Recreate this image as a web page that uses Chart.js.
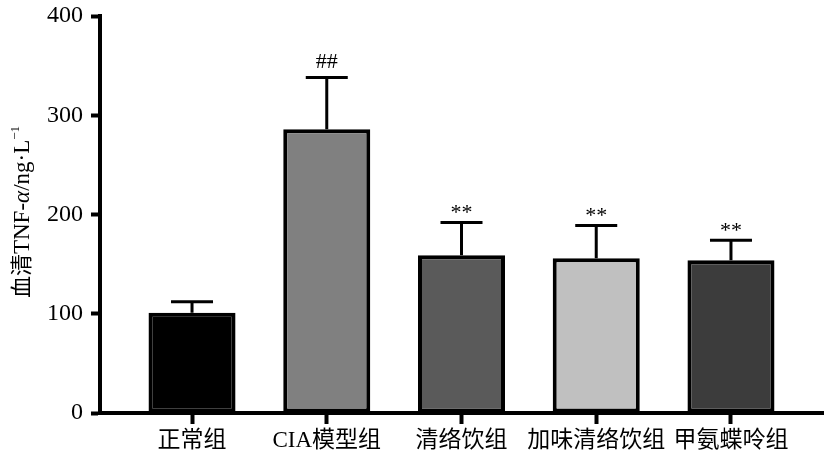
<!DOCTYPE html>
<html>
<head>
<meta charset="utf-8">
<script src="https://cdn.jsdelivr.net/npm/chart.js@4"></script>
<style>
  html, body { margin: 0; padding: 0; background: #fff; }
  #wrap { width: 829px; height: 462px; }
</style>
</head>
<body>
<div id="wrap"><canvas id="grafico" width="829" height="462"></canvas></div>
<script>
const grupos = ['正常组', 'CIA模型组', '清络饮组', '加味清络饮组', '甲氨蝶呤组'];
const medias = [101, 286, 159, 156, 154];
const errores = [11, 52, 33, 33, 20];
const marcas = ['', '##', '**', '**', '**'];
const colores = ['#000000', '#808080', '#5a5a5a', '#c0c0c0', '#3c3c3c'];
const ticksY = [0, 100, 200, 300, 400];

const serif = '"Liberation Serif", "Times New Roman", "Noto Sans CJK SC", serif';

// barras de error y marcas de significancia
const pluginError = {
    id: 'pluginError',
    afterDatasetsDraw(chart) {
        const ctx = chart.ctx;
        const x = chart.scales.x;
        const y = chart.scales.y;
        ctx.save();
        ctx.strokeStyle = '#000';
        ctx.lineWidth = 3;
        medias.forEach((m, i) => {
            const px = x.getPixelForValue(i);
            const top = y.getPixelForValue(m);
            const cap = y.getPixelForValue(m + errores[i]);
            ctx.beginPath();
            ctx.moveTo(px, top);
            ctx.lineTo(px, cap);
            ctx.moveTo(px - 21, cap);
            ctx.lineTo(px + 21, cap);
            ctx.stroke();
            if (marcas[i]) {
                ctx.fillStyle = '#000';
                ctx.font = '22px ' + serif;
                ctx.textAlign = 'center';
                ctx.textBaseline = 'alphabetic';
                ctx.fillText(marcas[i], px, marcas[i] === '##' ? cap - 10 : cap - 3);
            }
        });
        ctx.restore();
    }
};

// título del eje Y con alfa en cursiva y exponente
const pluginTitulo = {
    id: 'pluginTitulo',
    afterDraw(chart) {
        const ctx = chart.ctx;
        const partes = [
            { t: '血清', f: '22px "Noto Sans CJK SC", sans-serif', dy: 0 },
            { t: 'TNF-', f: '23px ' + serif, dy: 0 },
            { t: 'α', f: 'italic 23px ' + serif, dy: 0 },
            { t: '/ng·L', f: '23px ' + serif, dy: 0 },
            { t: '−1', f: '13px ' + serif, dy: -10 }
        ];
        ctx.save();
        let total = 0;
        partes.forEach(p => { ctx.font = p.f; p.w = ctx.measureText(p.t).width; total += p.w; });
        ctx.translate(29, 212);
        ctx.rotate(-Math.PI / 2);
        ctx.fillStyle = '#000';
        ctx.textBaseline = 'alphabetic';
        ctx.textAlign = 'left';
        let cx = -total / 2;
        partes.forEach(p => {
            ctx.font = p.f;
            ctx.fillText(p.t, cx, p.dy);
            cx += p.w;
        });
        ctx.restore();
    }
};

const grafico1 = document.getElementById('grafico').getContext('2d');

new Chart(grafico1, {
    type: 'bar',
    data: {
        datasets: [{
            data: medias.map((v, i) => ({ x: i, y: v })),
            backgroundColor: colores,
            borderColor: '#000',
            borderWidth: 4,
            borderSkipped: false,
            barPercentage: 0.646,
            categoryPercentage: 1
        }]
    },
    options: {
        responsive: false,
        animation: false,
        devicePixelRatio: 1,
        layout: { padding: { top: 16, right: 6, left: 0, bottom: 0 } },
        plugins: {
            legend: { display: false },
            tooltip: { enabled: false }
        },
        scales: {
            x: {
                type: 'linear',
                offset: false,
                min: -0.683,
                max: 4.683,
                afterBuildTicks: (s) => { s.ticks = grupos.map((_, i) => ({ value: i })); },
                afterFit: (s) => { s.height = 49; s.paddingLeft = 0; s.paddingRight = 0; },
                grid: {
                    display: true,
                    offset: false,
                    drawOnChartArea: false,
                    drawTicks: true,
                    tickLength: 11,
                    tickWidth: 4,
                    tickColor: '#000'
                },
                border: { display: true, color: '#000', width: 4 },
                ticks: {
                    color: '#000',
                    padding: 3,
                    maxRotation: 0,
                    autoSkip: false,
                    font: { size: 23, family: serif },
                    callback: (v) => grupos[v]
                }
            },
            y: {
                min: 0,
                max: 400,
                afterBuildTicks: (s) => { s.ticks = ticksY.map(v => ({ value: v })); },
                afterFit: (s) => { s.width = 100; s.paddingTop = 0; s.paddingBottom = 0; },
                grid: {
                    display: true,
                    drawOnChartArea: false,
                    drawTicks: true,
                    tickLength: 9,
                    tickWidth: 4,
                    tickColor: '#000'
                },
                border: { display: true, color: '#000', width: 4 },
                ticks: {
                    color: '#000',
                    padding: 8,
                    font: { size: 24, family: serif }
                }
            }
        }
    },
    plugins: [pluginError, pluginTitulo]
});
</script>
</body>
</html>
